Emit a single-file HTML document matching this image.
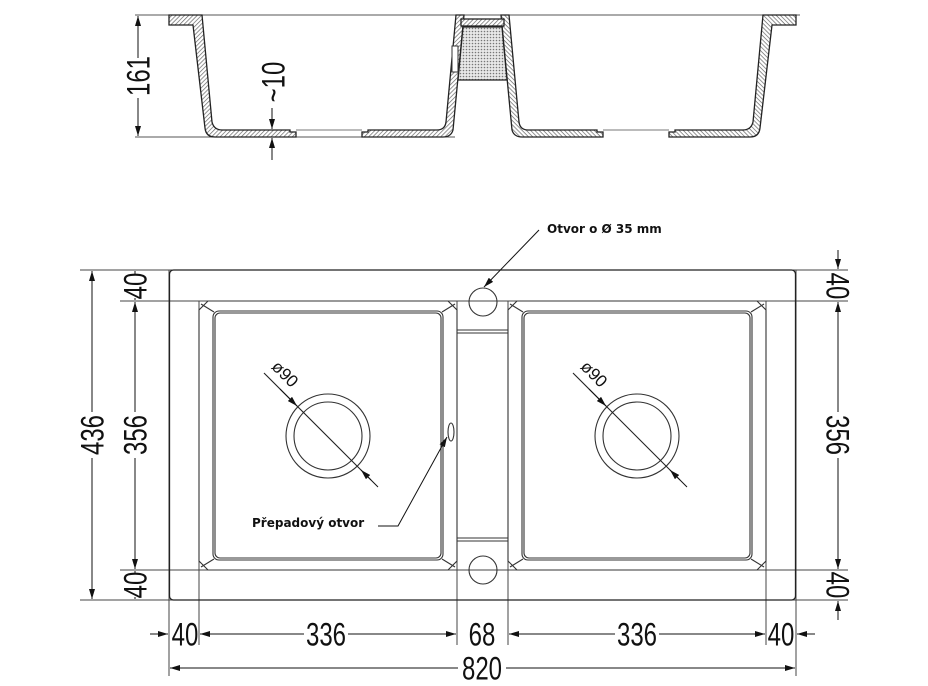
<!DOCTYPE html>
<html><head><meta charset="utf-8"><style>
html,body{margin:0;padding:0;background:#fff;}
svg{display:block;}
.d{font-family:"Liberation Sans",sans-serif;font-size:32px;fill:#111;text-anchor:middle;dominant-baseline:central;}
.b{font-family:"DejaVu Sans","Liberation Sans",sans-serif;font-weight:bold;font-size:12px;fill:#111;}
</style></head><body>
<svg width="928" height="686" viewBox="0 0 928 686" xmlns="http://www.w3.org/2000/svg">
<defs>
<pattern id="h" width="3" height="3" patternUnits="userSpaceOnUse" patternTransform="rotate(45)">
<rect width="3" height="3" fill="#fff"/><line x1="0" y1="0" x2="0" y2="3" stroke="#666" stroke-width="1.4"/></pattern>
<pattern id="dt" width="3" height="3" patternUnits="userSpaceOnUse">
<rect width="3" height="3" fill="#e8e8e8"/><circle cx="1.5" cy="1.5" r="0.8" fill="#777"/></pattern>
<marker id="a" viewBox="0 0 10 6" refX="10" refY="3" markerWidth="10" markerHeight="6" markerUnits="userSpaceOnUse" orient="auto-start-reverse"><path d="M0,0 L10,3 L0,6 Z" fill="#111"/></marker>
</defs>

<!-- SECTION VIEW -->
<g stroke="#222" stroke-width="1.3">
<line x1="135" y1="15" x2="800" y2="15" stroke="#555" stroke-width="1"/>
<line x1="135" y1="137" x2="455" y2="137" stroke="#555" stroke-width="1"/>
<g id="bowl">
<path d="M169,15 L202,15 L212,122 Q214,130 222,130 L290,130 L290,132 L296,132 L296,137 L215,137 Q206,137 205,128 L193,25 L169,25 Z" fill="url(#h)"/>
<path d="M362,137 L362,132 L368,132 L368,130 L437,130 Q445,130 446,122 L456,15 L464,15 L453,130 Q451,137 443,137 Z" fill="url(#h)"/>
<line x1="296" y1="130" x2="362" y2="130" stroke="#777" stroke-width="1"/>
</g>
<use href="#bowl" transform="matrix(-1,0,0,1,965,0)"/>
<rect x="461" y="19" width="43" height="7" fill="url(#h)"/>
<path d="M463,27 L502,27 L507,80 L458,80 Z" fill="url(#dt)"/>
<rect x="452" y="46" width="6" height="26" fill="#fff" stroke="#333" stroke-width="1"/>
</g>
<!-- 161 -->
<line x1="138" y1="16" x2="138" y2="136" stroke="#111" marker-start="url(#a)" marker-end="url(#a)"/>
<rect x="126" y="58" width="24" height="40" fill="#fff"/>
<text class="d" transform="translate(138,76) rotate(-90) scale(0.75,1)">161</text>
<!-- ~10 -->
<line x1="272" y1="108" x2="272" y2="129" stroke="#111" marker-end="url(#a)"/>
<line x1="272" y1="160" x2="272" y2="138" stroke="#111" marker-end="url(#a)"/>
<text class="d" transform="translate(273,82) rotate(-90) scale(0.75,1)">~10</text>

<!-- PLAN VIEW -->
<g fill="none" stroke="#444" stroke-width="1">
<line x1="80" y1="270" x2="848" y2="270"/>
<line x1="80" y1="600" x2="848" y2="600"/>
<line x1="120" y1="301" x2="848" y2="301"/>
<line x1="120" y1="570" x2="848" y2="570"/>
<line x1="169" y1="270" x2="169" y2="676"/>
<line x1="796" y1="270" x2="796" y2="676"/>
<line x1="199" y1="301" x2="199" y2="645"/>
<line x1="457" y1="301" x2="457" y2="645"/>
<line x1="508" y1="301" x2="508" y2="645"/>
<line x1="766" y1="301" x2="766" y2="645"/>
</g>
<rect x="169.5" y="270" width="626" height="330" rx="4" fill="none" stroke="#222" stroke-width="1.3"/>
<g id="pb" fill="none" stroke="#333" stroke-width="1.1">
<path d="M208,301 L448,301 L457,310 L457,561 L448,570 L208,570 L199,561 L199,310 Z"/>
<rect x="213" y="311" width="230" height="249" rx="6"/>
<rect x="215" y="313" width="226" height="245" rx="5"/>
<line x1="201" y1="304" x2="214" y2="312"/>
<line x1="455" y1="304" x2="442" y2="312"/>
<line x1="201" y1="567" x2="214" y2="559"/>
<line x1="455" y1="567" x2="442" y2="559"/>
<circle cx="328" cy="436" r="42"/>
<circle cx="328" cy="436" r="34"/>
<line x1="264" y1="373" x2="371" y2="480" stroke="#222"/>
</g>
<use href="#pb" transform="translate(309,0)"/>
<line x1="280" y1="389" x2="297" y2="406" stroke="#111" marker-end="url(#a)"/>
<line x1="378" y1="487" x2="361" y2="470" stroke="#111" marker-end="url(#a)"/>
<line x1="589" y1="389" x2="606" y2="406" stroke="#111" marker-end="url(#a)"/>
<line x1="687" y1="487" x2="670" y2="470" stroke="#111" marker-end="url(#a)"/>
<text transform="translate(281,378) rotate(45)" font-family="Liberation Sans,sans-serif" font-size="17" fill="#111" text-anchor="middle">ø90</text>
<text transform="translate(590,378) rotate(45)" font-family="Liberation Sans,sans-serif" font-size="17" fill="#111" text-anchor="middle">ø90</text>
<g fill="none" stroke="#333" stroke-width="1.1">
<circle cx="483" cy="302" r="14"/>
<circle cx="483" cy="570" r="14"/>
<line x1="457" y1="330" x2="508" y2="330"/><line x1="457" y1="333" x2="508" y2="333"/>
<line x1="457" y1="538" x2="508" y2="538"/><line x1="457" y1="541" x2="508" y2="541"/>
<ellipse cx="451" cy="432" rx="3" ry="9"/>
</g>
<!-- callouts -->
<line x1="539" y1="230" x2="484" y2="287" stroke="#111" marker-end="url(#a)"/>
<text class="b" x="547" y="233">Otvor o Ø 35 mm</text>
<polyline points="371,526 398,526 447,437" fill="none" stroke="#111" marker-end="url(#a)"/>
<rect x="250" y="512" width="128" height="22" fill="#fff"/>
<text class="b" x="252" y="527">Přepadový otvor</text>

<!-- left dims -->
<line x1="92" y1="271" x2="92" y2="599" stroke="#111" marker-start="url(#a)" marker-end="url(#a)"/>
<rect x="80" y="412" width="24" height="46" fill="#fff"/>
<text class="d" transform="translate(92,435) rotate(-90) scale(0.75,1)">436</text>
<line x1="135" y1="271" x2="135" y2="300" stroke="#111"/>
<line x1="135" y1="302" x2="135" y2="569" stroke="#111" marker-start="url(#a)" marker-end="url(#a)"/>
<line x1="135" y1="571" x2="135" y2="599" stroke="#111"/>
<rect x="123" y="274" width="24" height="24" fill="#fff"/>
<rect x="123" y="573" width="24" height="24" fill="#fff"/>
<rect x="123" y="412" width="24" height="46" fill="#fff"/>
<text class="d" transform="translate(135,286) rotate(-90) scale(0.75,1)">40</text>
<text class="d" transform="translate(135,435) rotate(-90) scale(0.75,1)">356</text>
<text class="d" transform="translate(135,585) rotate(-90) scale(0.75,1)">40</text>
<!-- right dims -->
<line x1="838" y1="250" x2="838" y2="269" stroke="#111" marker-end="url(#a)"/>
<line x1="838" y1="302" x2="838" y2="569" stroke="#111" marker-start="url(#a)" marker-end="url(#a)"/>
<line x1="838" y1="620" x2="838" y2="601" stroke="#111" marker-end="url(#a)"/>
<rect x="826" y="412" width="24" height="46" fill="#fff"/>
<text class="d" transform="translate(838,286) rotate(90) scale(0.75,1)">40</text>
<text class="d" transform="translate(838,435) rotate(90) scale(0.75,1)">356</text>
<text class="d" transform="translate(838,585) rotate(90) scale(0.75,1)">40</text>
<!-- bottom dims -->
<line x1="150" y1="634" x2="168" y2="634" stroke="#111" marker-end="url(#a)"/>
<line x1="200" y1="634" x2="456" y2="634" stroke="#111" marker-start="url(#a)" marker-end="url(#a)"/>
<line x1="509" y1="634" x2="765" y2="634" stroke="#111" marker-start="url(#a)" marker-end="url(#a)"/>
<line x1="815" y1="634" x2="797" y2="634" stroke="#111" marker-end="url(#a)"/>
<line x1="170" y1="668" x2="795" y2="668" stroke="#111" marker-start="url(#a)" marker-end="url(#a)"/>
<rect x="304" y="622" width="44" height="24" fill="#fff"/>
<rect x="615" y="622" width="44" height="24" fill="#fff"/>
<rect x="458" y="656" width="48" height="26" fill="#fff"/>
<text class="d" transform="translate(185,634) scale(0.75,1)">40</text>
<text class="d" transform="translate(326,634) scale(0.75,1)">336</text>
<text class="d" transform="translate(482,634) scale(0.75,1)">68</text>
<text class="d" transform="translate(637,634) scale(0.75,1)">336</text>
<text class="d" transform="translate(781,634) scale(0.75,1)">40</text>
<text class="d" transform="translate(482,668) scale(0.75,1)">820</text>
</svg>
</body></html>
